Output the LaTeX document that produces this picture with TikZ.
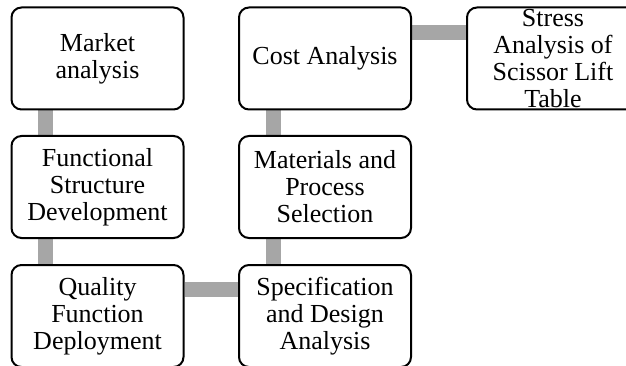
\documentclass[tikz,border=0pt]{standalone}
\usepackage{fontspec}
\setmainfont{Liberation Serif}
\usetikzlibrary{backgrounds}
\definecolor{linkgray}{RGB}{166,166,166}
\begin{document}
\begin{tikzpicture}[x=1pt, y=-1pt,
    stage/.style={draw, line width=2pt, rounded corners=10pt, fill=white, align=center,
        minimum width=172pt, minimum height=102pt, inner sep=2pt,
        font=\fontsize{26}{27}\selectfont},
    link/.style={draw=linkgray, line width=15pt}]
    \useasboundingbox (0,0) rectangle (626,366);

    \node[stage] (market) at (97.5,58.5) {Market\\analysis};
    \node[stage] (func) at (97.5,187) {Functional\\Structure\\Development};
    \node[stage] (qfd) at (97.5,316) {Quality\\Function\\Deployment};
    \node[stage] (spec) at (325,316) {Specification\\and Design\\Analysis};
    \node[stage] (mat) at (325,187) {Materials and\\Process\\Selection};
    \node[stage] (cost) at (325,58.5) {Cost Analysis};
    \node[stage, inner ysep=-4pt] (stress) at (553,58.5) {Stress\\Analysis of\\Scissor Lift\\Table};

    \begin{scope}[on background layer]
        \draw[link] ([xshift=35pt]market.south west) -- ([xshift=35pt]func.north west);
        \draw[link] ([xshift=35pt]func.south west) -- ([xshift=35pt]qfd.north west);
        \draw[link] ([yshift=-25pt]qfd.north east) -- ([yshift=-25pt]spec.north west);
        \draw[link] ([xshift=35pt]spec.north west) -- ([xshift=35pt]mat.south west);
        \draw[link] ([xshift=35pt]mat.north west) -- ([xshift=35pt]cost.south west);
        \draw[link] ([yshift=-26pt]cost.north east) -- ([yshift=-26pt]stress.north west);
    \end{scope}
\end{tikzpicture}
\end{document}
